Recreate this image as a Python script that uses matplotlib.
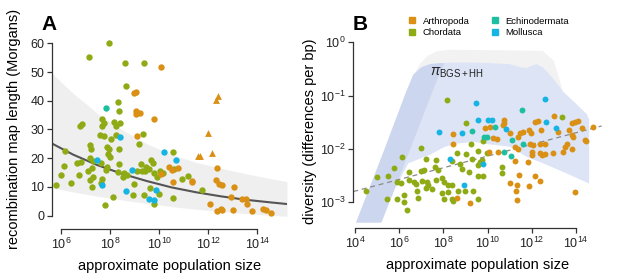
import matplotlib
matplotlib.use("Agg")
import matplotlib.pyplot as plt
import numpy as np
from matplotlib.lines import Line2D
from matplotlib.ticker import FixedLocator, FixedFormatter, NullLocator

plt.rcParams['font.family'] = ['Liberation Sans', 'DejaVu Sans']
plt.rcParams['mathtext.fontset'] = 'custom'
plt.rcParams['mathtext.rm'] = 'Liberation Sans'
plt.rcParams['mathtext.it'] = 'Liberation Sans:italic'
plt.rcParams['mathtext.bf'] = 'Liberation Sans:bold'

# phylum colours
ORANGE = '#D99014'
GREEN = '#8EAA14'
TEAL = '#1EBEA0'
CYAN = '#16B4E2'

# ---------------- panel A: log10(N) and map length (Morgans)
a_chord_n = [7.97, 7.15, 8.62, 9.37, 8.63, 8.31, 8.38, 6.77, 6.87, 7.66, 7.76, 8.17, 8.40, 8.23,
             7.68, 9.35, 7.60, 7.77, 8.23, 8.04, 7.18, 7.22, 7.86, 7.96, 6.18, 9.16, 8.35, 10.57,
             7.91, 7.99, 7.18, 7.32, 6.66, 6.83, 7.63, 7.86, 7.83, 8.36, 9.27, 9.67, 9.76, 9.45,
             9.60, 6.11, 10.93, 8.34, 8.57, 8.51, 8.67, 7.09, 7.25, 9.11, 9.29, 9.41, 9.79, 10.03,
             10.17, 9.90, 6.00, 6.75, 7.32, 7.18, 7.66, 7.62, 6.42, 5.80, 7.25, 8.96, 8.95, 9.63,
             11.73, 9.98, 9.39, 8.13, 10.56, 9.80, 7.78, 10.62, 11.19]
a_chord_y = [60.2, 55.1, 53.1, 53.1, 45.1, 39.4, 36.4, 31.2, 31.8, 33.6, 32.3, 32.7, 32.1, 31.2,
             31.2, 28.5, 28.2, 27.6, 28.2, 26.5, 24.5, 23.1, 24.0, 23.1, 22.4, 24.9, 23.1, 22.0,
             21.4, 20.5, 19.9, 19.1, 18.2, 18.7, 18.2, 17.0, 15.7, 17.8, 17.8, 19.3, 18.4, 17.0,
             16.1, 17.1, 12.7, 15.3, 14.7, 13.5, 14.0, 15.6, 16.4, 15.6, 15.6, 15.6, 14.9, 15.5,
             14.9, 13.5, 14.2, 14.1, 13.5, 12.4, 12.6, 11.4, 11.4, 10.7, 9.8, 10.9, 7.0, 9.6,
             8.9, 7.6, 7.3, 6.5, 6.0, 4.0, 3.6, 16.3, 13.6]
a_echino_n = [7.85]
a_echino_y = [37.6]
a_moll_n = [8.39, 10.18, 7.48, 10.68, 8.90, 7.66, 8.66, 9.88, 9.57, 9.78]
a_moll_y = [27.5, 22.0, 19.4, 19.4, 15.8, 10.5, 8.5, 9.0, 5.9, 5.4]
a_arth_n = [10.06, 9.04, 8.99, 9.04, 9.22, 9.04, 9.78, 9.10, 10.40, 10.78, 10.50, 11.35, 11.32,
            10.09, 10.57, 12.31, 12.44, 12.55, 13.06, 12.94, 13.37, 13.54, 13.56, 12.06, 12.34,
            12.50, 12.56, 13.02, 13.79, 14.23, 14.36, 14.54, 12.34]
a_arth_y = [51.7, 43.1, 42.6, 36.5, 35.6, 35.3, 33.6, 27.8, 16.8, 16.7, 15.9, 11.9, 11.8,
            14.3, 11.8, 12.4, 11.0, 10.6, 9.8, 6.6, 5.9, 5.6, 4.0, 4.0, 1.7,
            2.1, 1.9, 1.8, 1.6, 2.1, 1.9, 1.0, 16.4]
a_tri_n = [12.41, 12.31, 11.99, 11.66, 11.59, 12.14]
a_tri_y = [41.8, 40.2, 28.8, 20.7, 20.7, 21.7]

# fitted curve and its band
a_fit_n = [5.63, 6.5, 7.5, 8.5, 9.5, 10.5, 11.5, 12.5, 13.5, 14.5, 15.2]
a_fit_y = [25.1, 21.2, 17.5, 14.5, 12.0, 9.8, 8.1, 6.7, 5.5, 4.6, 4.0]
a_band_hi = [49.6, 42.5, 35.5, 29.8, 25.0, 21.2, 18.5, 16.5, 14.6, 12.9, 11.8]
a_band_lo = [9.6, 8.2, 6.7, 5.4, 4.2, 3.1, 2.2, 1.4, 0.7, 0.1, -0.3]

# ---------------- panel B: log10(N) and log10(diversity)
b_chord_n = [8.15, 9.01, 9.25, 6.99, 6.11, 7.23, 7.67, 8.40, 8.63, 9.02, 9.28, 8.77, 7.62, 7.77,
             5.78, 6.44, 6.99, 7.12, 8.83, 9.16, 4.98, 5.48, 5.89, 6.08, 6.44, 6.68, 7.02, 7.24,
             7.32, 7.67, 7.92, 8.04, 8.22, 8.37, 6.76, 6.79, 7.21, 7.47, 8.68, 8.98, 9.35, 4.51,
             7.92, 8.19, 6.23, 5.46, 5.89, 6.84, 8.04, 8.37, 8.45, 6.23, 6.34,
             13.35, 9.81, 9.99, 9.58, 9.66, 9.73, 9.58, 10.64, 10.67, 9.58, 9.81, 9.58]
b_chord_p = [-1.08, -1.52, -1.91, -1.98, -2.16, -2.19, -2.21, -2.23, -2.08, -2.10, -2.18, -2.28, -2.33, -2.40,
             -2.36, -2.43, -2.41, -2.40, -2.38, -2.43, -2.52, -2.50, -2.62, -2.63, -2.58, -2.62, -2.60, -2.62,
             -2.68, -2.58, -2.54, -2.62, -2.68, -2.67, -2.66, -2.78, -2.73, -2.76, -2.79, -2.79, -2.79, -2.79,
             -2.82, -2.81, -2.86, -2.93, -2.93, -2.92, -2.94, -2.93, -2.98, -3.00, -3.14,
             -1.41, -1.86, -2.07, -2.04, -2.24, -2.21, -2.30, -2.33, -2.46, -2.50, -2.50, -2.93]
b_arth_n = [8.45, 8.45, 8.60, 9.20,
            13.02, 10.76, 10.73, 10.71, 12.14, 12.29, 13.80, 13.95, 14.11, 9.88, 10.11, 11.01,
            11.47, 11.39, 11.62, 11.87, 11.96, 12.42, 13.20, 13.68, 13.80, 13.85, 14.26, 10.26,
            10.41, 12.07, 11.92, 12.37, 12.60, 13.58, 13.50, 14.41, 14.44, 11.24, 11.39, 10.06,
            10.49, 11.99, 12.00, 12.37, 12.48, 12.60, 12.97, 13.43, 13.83, 11.24, 11.84, 11.42,
            12.14, 12.37, 11.89, 11.01, 11.34, 11.31, 11.34, 13.95, 14.78]
b_arth_p = [-1.72, -1.90, -2.92, -3.02,
            -1.38, -1.45, -1.51, -1.55, -1.49, -1.47, -1.52, -1.50, -1.47, -1.61, -1.58, -1.70,
            -1.71, -1.77, -1.68, -1.65, -1.70, -1.65, -1.68, -1.65, -1.73, -1.77, -1.61, -1.79,
            -1.81, -1.93, -1.91, -1.90, -1.91, -1.90, -1.96, -1.83, -1.85, -1.96, -2.00, -2.05,
            -2.05, -2.05, -2.12, -2.08, -2.11, -2.10, -2.08, -2.05, -2.00, -2.23, -2.24, -2.48,
            -2.51, -2.60, -2.69, -2.63, -2.68, -2.79, -2.96, -2.80, -1.58]
b_echino_n = [9.31, 11.54, 10.33, 9.85, 9.96, 11.12, 11.62, 10.76, 11.06]
b_echino_p = [-1.67, -1.27, -1.59, -1.77, -1.77, -1.83, -1.91, -2.05, -2.13]
b_moll_n = [9.46, 7.80, 8.83, 8.30, 8.95, 12.60, 12.64, 9.58, 10.03, 10.18, 10.82, 13.08, 9.81]
b_moll_p = [-1.14, -1.68, -1.70, -2.19, -2.67, -1.06, -1.49, -1.46, -1.46, -1.46, -1.63, -1.60, -2.28]

# regression line
b_trend_n = [3.92, 15.16]
b_trend_p = [-2.80, -1.57]

# shaded prediction regions (outlines)
b_grey_n = [4.05, 5.3, 6.3, 6.6, 6.95, 7.3, 7.7, 8.3, 12.5, 13.0, 13.4, 8.0, 5.13]
b_grey_p = [-3.38, -2.05, -0.95, -0.65, -0.40, -0.25, -0.17, -0.14, -0.16, -0.35, -0.9, -0.5, -3.38]
b_blue_n = [4.05, 5.3, 6.3, 6.64, 7.0, 7.4, 7.85, 8.45, 9.5, 11.0, 11.5, 11.77, 12.0, 12.22, 12.5,
            12.82, 13.1, 13.43, 14.0, 14.5, 14.6, 14.6, 13.58, 12.52, 11.77, 11.01, 9.81, 9.43,
            8.60, 8.07, 7.39, 6.41, 5.8, 5.13]
b_blue_p = [-3.38, -2.05, -0.95, -0.61, -0.47, -0.41, -0.39, -0.38, -0.38, -0.41, -0.47, -0.48, -0.44, -0.41, -0.47,
            -0.61, -0.75, -0.93, -1.15, -1.35, -1.45, -2.65, -2.46, -2.27, -2.15, -1.96, -1.90, -1.87,
            -1.90, -1.96, -2.11, -2.27, -2.75, -3.38]
b_strip_n = [4.05, 5.3, 6.3, 6.64, 7.0, 7.4, 7.85, 8.05, 7.62, 6.57, 5.2]
b_strip_p = [-3.38, -2.05, -0.95, -0.61, -0.47, -0.41, -0.39, -0.39, -0.80, -1.93, -3.38]

legend_labels = ['Arthropoda', 'Chordata', 'Echinodermata', 'Mollusca']
legend_colors = [ORANGE, GREEN, TEAL, CYAN]


def p10(v):
    return 10.0 ** np.asarray(v, dtype=float)


def style_axis(ax):
    for s in ['top', 'right']:
        ax.spines[s].set_visible(False)
    for s in ['left', 'bottom']:
        ax.spines[s].set_color('#333333')
        ax.spines[s].set_linewidth(0.9)
    ax.tick_params(direction='out', length=3.5, width=0.9, color='#333333',
                   labelsize=9, labelcolor='#222222', pad=2)


fig = plt.figure(figsize=(6.17, 2.75), dpi=100)

# ---------- A
axA = fig.add_axes([0.0841, 0.2007, 0.381, 0.6625])
axA.set_xscale('log')
axA.fill_between(p10(a_fit_n), a_band_lo, a_band_hi, color='#EFEFEF', lw=0, zorder=0)
axA.plot(p10(a_fit_n), a_fit_y, color='#555555', lw=1.5, zorder=2)
axA.scatter(p10(a_chord_n), a_chord_y, s=21, color=GREEN, lw=0, zorder=3)
axA.scatter(p10(a_arth_n), a_arth_y, s=21, color=ORANGE, lw=0, zorder=3)
axA.scatter(p10(a_tri_n), a_tri_y, s=24, marker='^', color=ORANGE, lw=0, zorder=3)
axA.scatter(p10(a_echino_n), a_echino_y, s=21, color=TEAL, lw=0, zorder=3)
axA.scatter(p10(a_moll_n), a_moll_y, s=21, color=CYAN, lw=0, zorder=3)
axA.set_xlim(p10(5.63), p10(15.2))
axA.set_ylim(-1.5, 62)
style_axis(axA)
axA.spines['left'].set_bounds(0, 60)
axA.spines['bottom'].set_bounds(1e6, 1e14)
axA.spines['bottom'].set_position(('outward', 6.6))
axA.xaxis.set_major_locator(FixedLocator(p10([6, 8, 10, 12, 14])))
axA.xaxis.set_major_formatter(FixedFormatter([r'$10^{%d}$' % e for e in [6, 8, 10, 12, 14]]))
axA.xaxis.set_minor_locator(NullLocator())
axA.set_yticks([0, 10, 20, 30, 40, 50, 60])
axA.set_xlabel('approximate population size', fontsize=10.5, labelpad=5)
axA.set_ylabel('recombination map length (Morgans)', fontsize=10.5, labelpad=7)

# ---------- B
axB = fig.add_axes([0.5725, 0.1909, 0.4039, 0.665])
axB.set_xscale('log')
axB.set_yscale('log')
axB.fill(p10(b_grey_n), p10(b_grey_p), color='#F2F2F2', lw=0, zorder=0)
axB.fill(p10(b_blue_n), p10(b_blue_p), color='#DCE4F6', lw=0, zorder=0.5)
axB.fill(p10(b_strip_n), p10(b_strip_p), color='#CCD7EF', lw=0, zorder=0.8)
axB.plot(p10(b_trend_n), p10(b_trend_p), color='#8A8A8A', lw=0.9, ls=(0, (4, 3)), zorder=2)
axB.scatter(p10(b_chord_n), p10(b_chord_p), s=18, color=GREEN, lw=0, zorder=3)
axB.scatter(p10(b_arth_n), p10(b_arth_p), s=18, color=ORANGE, lw=0, zorder=3)
axB.scatter(p10(b_echino_n), p10(b_echino_p), s=18, color=TEAL, lw=0, zorder=3)
axB.scatter(p10(b_moll_n), p10(b_moll_p), s=18, color=CYAN, lw=0, zorder=3)
axB.text(p10(8.6), p10(-0.58), r'$\pi_{\mathregular{BGS+HH}}$', fontsize=10,
         ha='center', va='center', color='#222222')
axB.set_xlim(p10(3.92), p10(15.2))
axB.set_ylim(p10(-3.38), p10(0.05))
style_axis(axB)
axB.spines['left'].set_bounds(1e-3, 1e0)
axB.spines['bottom'].set_bounds(1e4, 1e14)
axB.spines['bottom'].set_position(('outward', 4.2))
axB.xaxis.set_major_locator(FixedLocator(p10([4, 6, 8, 10, 12, 14])))
axB.xaxis.set_major_formatter(FixedFormatter([r'$10^{%d}$' % e for e in [4, 6, 8, 10, 12, 14]]))
axB.xaxis.set_minor_locator(NullLocator())
axB.yaxis.set_major_locator(FixedLocator(p10([-3, -2, -1, 0])))
axB.yaxis.set_major_formatter(FixedFormatter([r'$10^{%d}$' % e for e in [-3, -2, -1, 0]]))
axB.yaxis.set_minor_locator(NullLocator())
axB.set_xlabel('approximate population size', fontsize=10.5, labelpad=5)
axB.set_ylabel('diversity (differences per bp)', fontsize=10.5, labelpad=2)

handles = [Line2D([], [], marker='s', ls='', color=c, markersize=4.5) for c in legend_colors]
fig.legend(handles, legend_labels, ncol=2, frameon=False, fontsize=6.8,
           loc='upper left', bbox_to_anchor=(403 / 617, 1 - 12 / 275),
           handlelength=0.9, handletextpad=0.7, columnspacing=2.2,
           labelspacing=0.25, borderpad=0)

fig.text(49 / 617, 1 - 25 / 275, 'A', fontsize=15, fontweight='bold', ha='center', va='center')
fig.text(360 / 617, 1 - 25 / 275, 'B', fontsize=15, fontweight='bold', ha='center', va='center')

fig.savefig('out.png', dpi=100)
